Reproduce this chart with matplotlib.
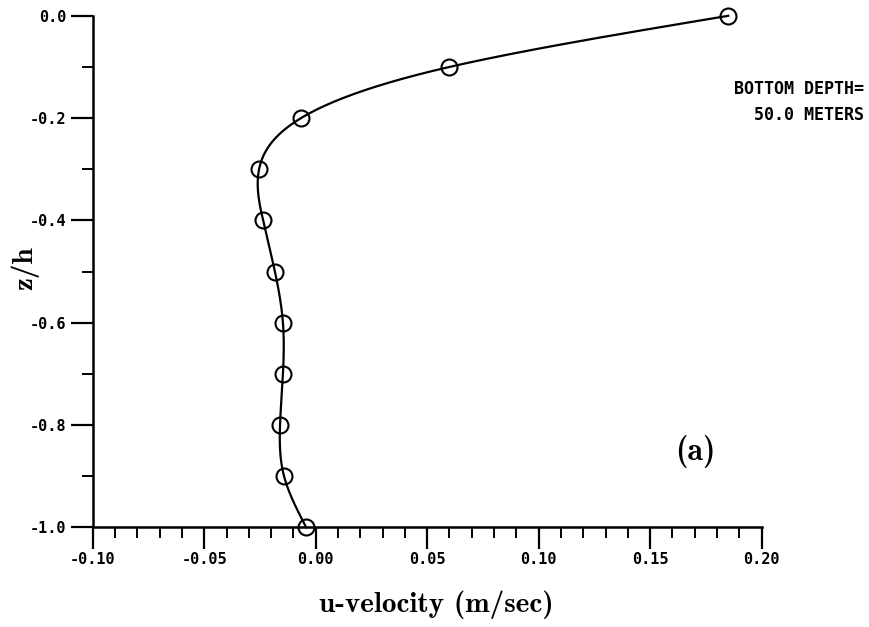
import numpy as np
import matplotlib
matplotlib.use("Agg")
import matplotlib.pyplot as plt
from matplotlib.ticker import MultipleLocator, FixedLocator

# ---- data ----
z_over_h = [0.0, -0.1, -0.2, -0.3, -0.4, -0.5, -0.6, -0.7, -0.8, -0.9, -1.0]
u_velocity = [0.185, 0.060, -0.0066, -0.0254, -0.0236, -0.0183, -0.0147, -0.0147, -0.0160, -0.0142, -0.0043]
x_ticks = [-0.10, -0.05, 0.00, 0.05, 0.10, 0.15, 0.20]
x_tick_labels = ["-0.10", "-0.05", "0.00", "0.05", "0.10", "0.15", "0.20"]
y_ticks = [0.0, -0.2, -0.4, -0.6, -0.8, -1.0]
y_tick_labels = ["0.0", "-0.2", "-0.4", "-0.6", "-0.8", "-1.0"]
annotation = "BOTTOM DEPTH=\n50.0 METERS"
panel = "(a)"


def natural_spline(xk, yk, xs):
    xk = np.asarray(xk, float); yk = np.asarray(yk, float)
    n = len(xk)
    h = np.diff(xk)
    A = np.zeros((n, n)); b = np.zeros(n)
    A[0, 0] = 1; A[-1, -1] = 1
    for i in range(1, n - 1):
        A[i, i - 1] = h[i - 1]
        A[i, i] = 2 * (h[i - 1] + h[i])
        A[i, i + 1] = h[i]
        b[i] = 3 * ((yk[i + 1] - yk[i]) / h[i] - (yk[i] - yk[i - 1]) / h[i - 1])
    c = np.linalg.solve(A, b)
    out = np.empty_like(xs)
    for j, x in enumerate(xs):
        i = min(max(np.searchsorted(xk, x) - 1, 0), n - 2)
        dx = x - xk[i]
        bi = (yk[i + 1] - yk[i]) / h[i] - h[i] * (2 * c[i] + c[i + 1]) / 3
        di = (c[i + 1] - c[i]) / (3 * h[i])
        out[j] = yk[i] + bi * dx + c[i] * dx ** 2 + di * dx ** 3
    return out


zk = np.array(z_over_h[::-1])
uk = np.array(u_velocity[::-1])
zs = np.linspace(zk[0], zk[-1], 400)
us = natural_spline(zk, uk, zs)

fig = plt.figure(figsize=(8.69, 6.27), dpi=100)
ax = fig.add_axes([0.1067, 0.159, 0.7698, 0.8158])

ax.plot(us, zs, color="black", lw=1.6, clip_on=False, zorder=3)
ax.plot(u_velocity, z_over_h, linestyle="none", marker="o", ms=11.5,
        mfc="none", mec="black", mew=1.5, clip_on=False, zorder=4)

ax.set_xlim(-0.10, 0.20)
ax.set_ylim(-1.0, 0.0)

for s in ["top", "right"]:
    ax.spines[s].set_visible(False)
for s in ["left", "bottom"]:
    ax.spines[s].set_linewidth(1.8)

tickfont = dict(family="DejaVu Sans Mono", weight="bold", size=11)
ax.xaxis.set_major_locator(FixedLocator(x_ticks))
ax.set_xticklabels(x_tick_labels, fontdict=tickfont)
ax.xaxis.set_minor_locator(MultipleLocator(0.01))
ax.yaxis.set_major_locator(FixedLocator(y_ticks))
ax.set_yticklabels(y_tick_labels, fontdict=tickfont)
ax.yaxis.set_minor_locator(MultipleLocator(0.1))

ax.tick_params(axis="both", which="major", direction="out", length=16, width=1.6, color="black")
ax.tick_params(axis="both", which="minor", direction="out", length=8, width=1.4, color="black")
ax.tick_params(axis="x", which="major", pad=2)
ax.tick_params(axis="y", which="major", pad=3)

labfont = dict(family="cmb10", size=21)
fig.text(436 / 869, 1 - 605 / 627, "u-velocity (m/sec)", ha="center", va="center", **labfont)
fig.text(25 / 869, 1 - 268 / 627, "z/h", ha="center", va="center", rotation=90, **labfont)
fig.text(715 / 869, 1 - 452 / 627, panel, ha="right", va="center", family="cmb10", size=23)
fig.text(864 / 869, 1 - 102 / 627, annotation, ha="right", va="center",
         family="DejaVu Sans Mono", weight="bold", size=12, linespacing=1.6,
         multialignment="right")

fig.savefig("out.png", dpi=100)
